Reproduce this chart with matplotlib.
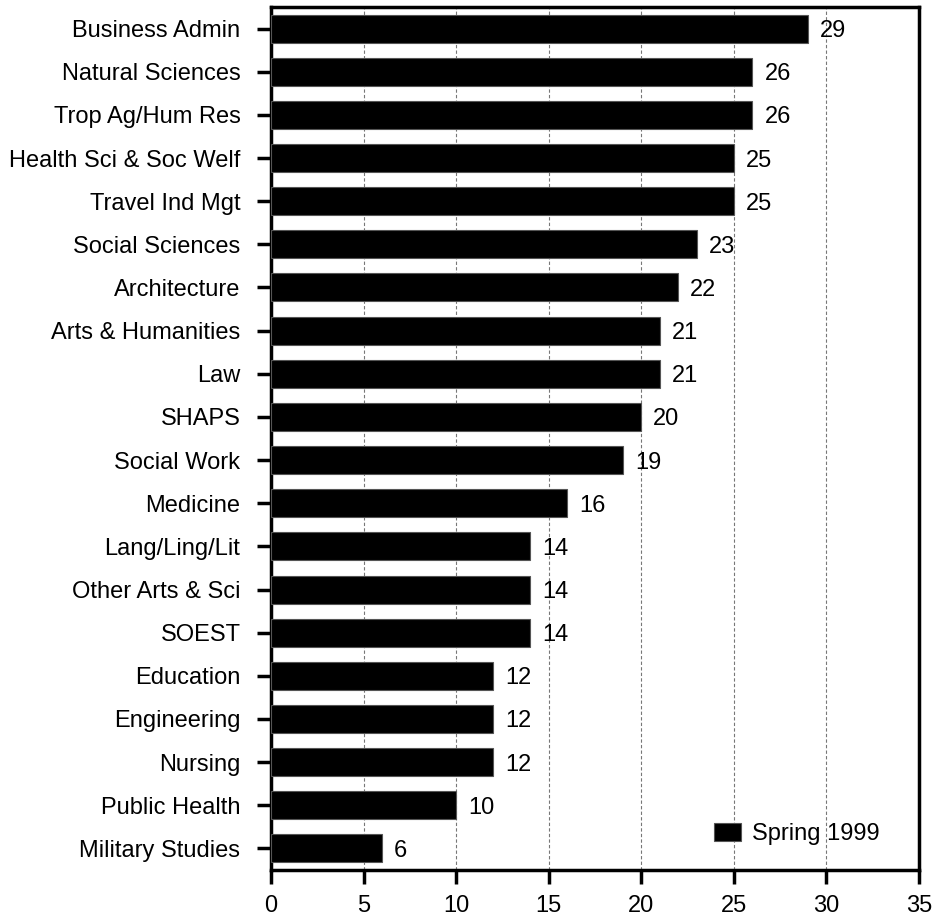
import matplotlib.pyplot as plt
import numpy as np

# Programs and average class sizes, Spring 1999 (top to bottom)
programs = ["Business Admin", "Natural Sciences", "Trop Ag/Hum Res",
            "Health Sci & Soc Welf", "Travel Ind Mgt", "Social Sciences",
            "Architecture", "Arts & Humanities", "Law", "SHAPS",
            "Social Work", "Medicine", "Lang/Ling/Lit", "Other Arts & Sci",
            "SOEST", "Education", "Engineering", "Nursing",
            "Public Health", "Military Studies"]
values = [29, 26, 26, 25, 25, 23, 22, 21, 21, 20,
          19, 16, 14, 14, 14, 12, 12, 12, 10, 6]
x_ticks = [0, 5, 10, 15, 20, 25, 30, 35]
series_label = "Spring 1999"

plt.rcParams['font.family'] = ['Liberation Sans', 'DejaVu Sans']
fs = 17

fig = plt.figure(figsize=(9.35, 9.16), dpi=100)
ax = fig.add_axes([271 / 935, 1 - 870 / 916, (919 - 271) / 935, (870 - 7) / 916])

y = np.arange(len(programs))
ax.barh(y, values, height=0.65, color='black', edgecolor='#555555',
        linewidth=0.8, label=series_label, zorder=3)

# value labels to the right of each bar
for yi, v in zip(y, values):
    ax.text(v + 0.65, yi, str(v), va='center_baseline', ha='left', fontsize=fs, zorder=4)

ax.set_xlim(0, 35)
ax.set_ylim(len(programs) - 0.5, -0.5)
ax.set_xticks(x_ticks)
ax.set_yticks(y)
ax.set_yticklabels(programs)
ax.tick_params(axis='both', labelsize=fs, length=10, width=2.5, direction='out')
ax.tick_params(axis='y', pad=12)
ax.tick_params(axis='x', pad=8)

for s in ax.spines.values():
    s.set_linewidth(2.5)

ax.grid(True, axis='x', linestyle=(0, (3, 2)), color='#777777', linewidth=0.8, zorder=0)
ax.set_axisbelow(True)

ax.legend(loc='center left', bbox_to_anchor=(0.684, 0.042), frameon=False,
          fontsize=fs, handlelength=1.15, handleheight=0.8, handletextpad=0.47,
          borderpad=0, borderaxespad=0)

plt.savefig("out.png", dpi=100)
